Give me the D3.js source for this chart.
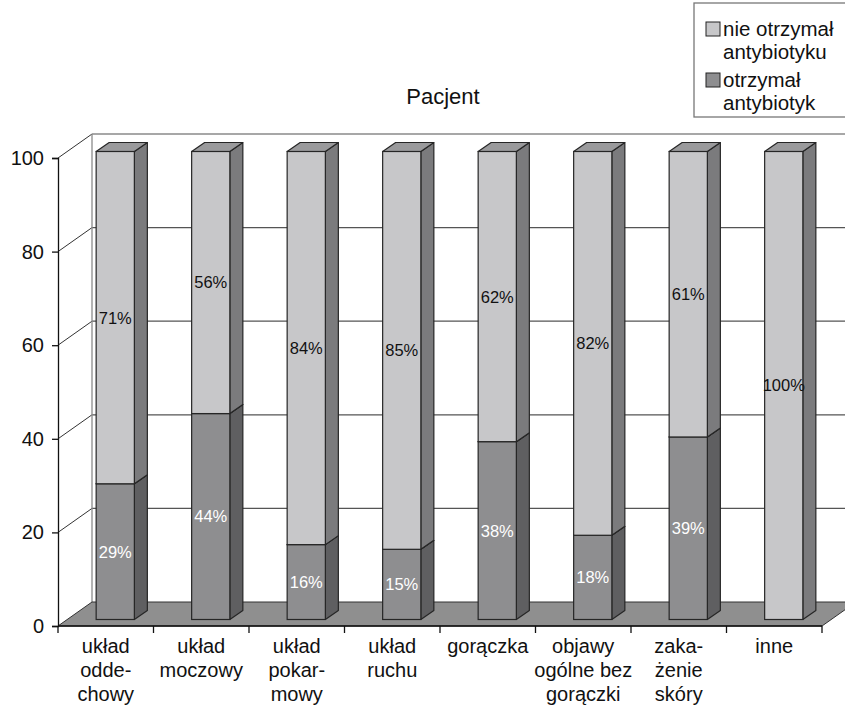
<!DOCTYPE html>
<html>
<head>
<meta charset="utf-8">
<script src="https://cdn.jsdelivr.net/npm/d3@7"></script>
<style>
  html, body { margin: 0; padding: 0; background: #fff; }
  svg { display: block; font-family: "Liberation Sans", Arial, Helvetica, sans-serif; }
</style>
</head>
<body>
<svg id="chart" width="845" height="708"></svg>
<script>
// Categories (axis labels split into lines)
const categories = [
  ["układ", "odde-", "chowy"],
  ["układ", "moczowy"],
  ["układ", "pokar-", "mowy"],
  ["układ", "ruchu"],
  ["gorączka"],
  ["objawy", "ogólne bez", "gorączki"],
  ["zaka-", "żenie", "skóry"],
  ["inne"]
];
// Share of patients (%) that received an antibiotic
const received = [29, 44, 16, 15, 38, 18, 39, 0];
// Share of patients (%) that did not receive an antibiotic
const notReceived = [71, 56, 84, 85, 62, 82, 61, 100];
const yTicks = [0, 20, 40, 60, 80, 100];
const seriesNames = [["nie otrzymał", "antybiotyku"], ["otrzymał", "antybiotyk"]];
const title = "Pacjent";

const svg = d3.select("#chart");
const W = 845;

// Front plane of the plot
const x = d3.scaleBand().domain(d3.range(categories.length)).range([58, 822]);
const y = d3.scaleLinear().domain([0, 100]).range([626, 158]);

// 3-D offsets: back wall, bar front plane, bar depth
const wall = { dx: 34, dy: -24 };
const barOff = { dx: 9.5, dy: -6.5 };
const barDepth = { dx: 13, dy: -9 };
const barW = x.bandwidth() * 0.4;

const col = {
  light: { front: "#c7c7c9", side: "#7b7b7d", top: "#9a9a9c" },
  dark:  { front: "#8e8e90", side: "#5f5f61", top: "#77777a" },
  floor: "#8f8f8f",
  outline: "#262626",
  grid: "#555"
};

const x0 = x.range()[0], x1 = x.range()[1];

// Back wall gridlines and the diagonals linking them to the value axis
const grid = svg.append("g");
yTicks.forEach(t => {
  if (t === 0) return;
  grid.append("line")
    .attr("x1", x0 + wall.dx).attr("x2", W)
    .attr("y1", y(t) + wall.dy).attr("y2", y(t) + wall.dy)
    .attr("stroke", t === 100 ? "#8a8a8a" : col.grid).attr("stroke-width", 1.3);
  grid.append("line")
    .attr("x1", x0).attr("y1", y(t))
    .attr("x2", x0 + wall.dx).attr("y2", y(t) + wall.dy)
    .attr("stroke", "#333").attr("stroke-width", 1);
});
grid.append("line")
  .attr("x1", x0 + wall.dx).attr("x2", x0 + wall.dx)
  .attr("y1", y(100) + wall.dy).attr("y2", y(0) + wall.dy)
  .attr("stroke", "#8a8a8a").attr("stroke-width", 1.3);

// Floor
svg.append("polygon")
  .attr("points", [
    [x0, y(0)], [x1, y(0)], [x1 + wall.dx, y(0) + wall.dy], [x0 + wall.dx, y(0) + wall.dy]
  ].map(p => p.join(",")).join(" "))
  .attr("fill", col.floor).attr("stroke", "#333").attr("stroke-width", 1);

// Stacked 3-D bars
const bars = svg.append("g");
function box(g, left, yb, yt, c) {
  const r = left + barW;
  const d = barDepth;
  g.append("polygon")
    .attr("points", [[r, yb], [r + d.dx, yb + d.dy], [r + d.dx, yt + d.dy], [r, yt]].map(p => p.join(",")).join(" "))
    .attr("fill", c.side).attr("stroke", col.outline).attr("stroke-width", 1.2).attr("stroke-linejoin", "round");
  g.append("polygon")
    .attr("points", [[left, yt], [r, yt], [r + d.dx, yt + d.dy], [left + d.dx, yt + d.dy]].map(p => p.join(",")).join(" "))
    .attr("fill", c.top).attr("stroke", col.outline).attr("stroke-width", 1.2).attr("stroke-linejoin", "round");
  g.append("rect")
    .attr("x", left).attr("y", yt).attr("width", barW).attr("height", yb - yt)
    .attr("fill", c.front).attr("stroke", col.outline).attr("stroke-width", 1.2);
}

categories.forEach((cat, i) => {
  const left = x(i) + x.bandwidth() / 2 - barW / 2 + barOff.dx;
  const yb = v => y(v) + barOff.dy;
  const g = bars.append("g");
  const a = received[i], b = notReceived[i];
  if (a > 0) box(g, left, yb(0), yb(a), col.dark);
  if (b > 0) box(g, left, yb(a), yb(a + b), col.light);
  const cx = left + barW / 2;
  if (a > 0) {
    g.append("text").attr("x", cx).attr("y", yb(a / 2)).attr("dy", "0.36em")
      .attr("text-anchor", "middle").attr("font-size", 16.5).attr("fill", "#fff").text(a + "%");
  }
  if (b > 0) {
    g.append("text").attr("x", cx).attr("y", yb(a + b / 2)).attr("dy", "0.36em")
      .attr("text-anchor", "middle").attr("font-size", 16.5).attr("fill", "#111").text(b + "%");
  }
});

// Value axis
const yAxis = svg.append("g").attr("transform", `translate(${x0},0)`)
  .call(d3.axisLeft(y).tickValues(yTicks).tickSize(6).tickPadding(8));
yAxis.select(".domain").attr("stroke", "#111").attr("stroke-width", 1.3);
yAxis.selectAll(".tick line").attr("stroke", "#111").attr("stroke-width", 1.3);
yAxis.selectAll(".tick text").attr("font-size", 20).attr("fill", "#111")
  .attr("font-family", "Liberation Sans, Arial, sans-serif");

// Category axis
const xAxis = svg.append("g").attr("transform", `translate(0,${y(0)})`);
xAxis.append("line").attr("x1", x0).attr("x2", x1).attr("y1", 0).attr("y2", 0)
  .attr("stroke", "#111").attr("stroke-width", 1.3);
d3.range(categories.length + 1).forEach(i => {
  const xx = i < categories.length ? x(i) : x1;
  xAxis.append("line").attr("x1", xx).attr("x2", xx).attr("y1", 0).attr("y2", 7)
    .attr("stroke", "#111").attr("stroke-width", 1.3);
});
categories.forEach((cat, i) => {
  const t = xAxis.append("text")
    .attr("x", x(i) + x.bandwidth() / 2).attr("y", 27)
    .attr("text-anchor", "middle").attr("font-size", 20).attr("fill", "#111");
  cat.forEach((line, k) => {
    t.append("tspan").attr("x", x(i) + x.bandwidth() / 2).attr("dy", k === 0 ? 0 : 24).text(line);
  });
});

// Title
svg.append("text").attr("x", 443).attr("y", 104).attr("text-anchor", "middle")
  .attr("font-size", 22).attr("fill", "#111").text(title);

// Legend
const lg = svg.append("g");
lg.append("rect").attr("x", 694).attr("y", 3).attr("width", 170).attr("height", 114)
  .attr("fill", "#fff").attr("stroke", "#777").attr("stroke-width", 1.3);
const legendCols = [col.light.front, col.dark.front];
const entryBase = [36, 87];
seriesNames.forEach((lines, k) => {
  const base = entryBase[k];
  lg.append("rect").attr("x", 706).attr("y", base - 14).attr("width", 14).attr("height", 14)
    .attr("fill", legendCols[k]).attr("stroke", "#222").attr("stroke-width", 1);
  lines.forEach((ln, j) => {
    lg.append("text").attr("x", 723).attr("y", base + j * 23)
      .attr("font-size", 20.5).attr("fill", "#111").text(ln);
  });
});
</script>
</body>
</html>
